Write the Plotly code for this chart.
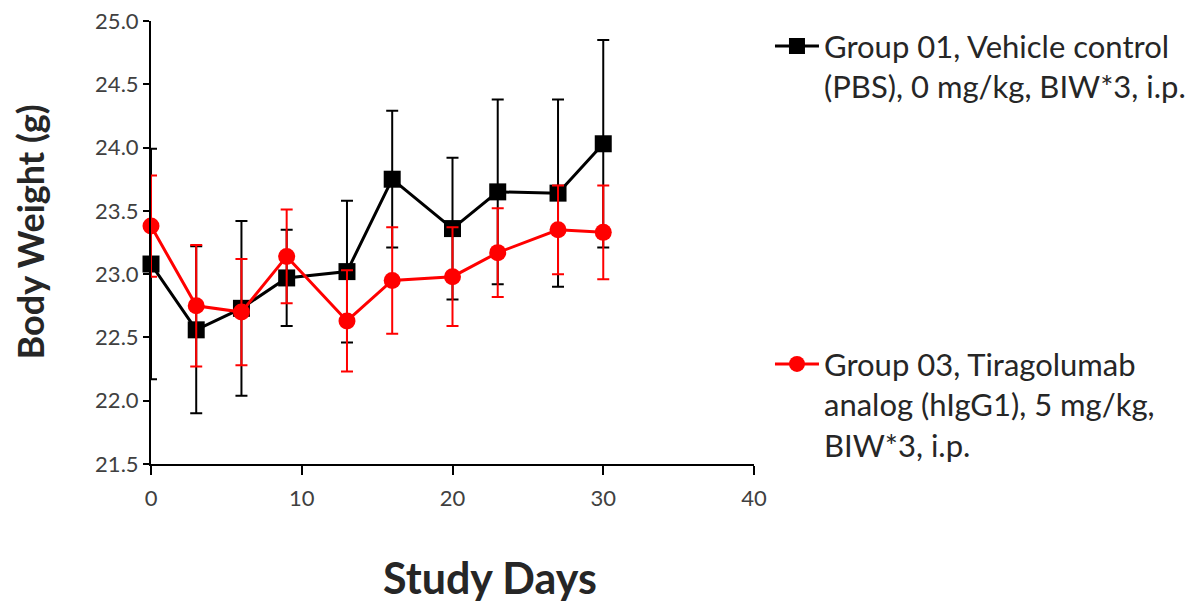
import plotly.graph_objects as go

days = [0, 3, 6, 9, 13, 16, 20, 23, 27, 30]
g01_mean = [23.08, 22.56, 22.73, 22.97, 23.02, 23.75, 23.36, 23.65, 23.64, 24.03]
g01_err = [0.91, 0.66, 0.69, 0.38, 0.56, 0.54, 0.56, 0.73, 0.74, 0.82]
g03_mean = [23.38, 22.75, 22.70, 23.14, 22.63, 22.95, 22.98, 23.17, 23.35, 23.33]
g03_err = [0.40, 0.48, 0.42, 0.37, 0.40, 0.42, 0.39, 0.35, 0.35, 0.37]

g01_name = "Group 01, Vehicle control<br>(PBS), 0 mg/kg, BIW*3, i.p."
g03_name = "Group 03, Tiragolumab<br>analog (hIgG1), 5 mg/kg,<br>BIW*3, i.p."

x_title = "Study Days"
y_title = "Body Weight (g)"

x_ticks = [0, 10, 20, 30, 40]
y_ticks = [21.5, 22.0, 22.5, 23.0, 23.5, 24.0, 24.5, 25.0]

FONT = "Lato"

fig = go.Figure()
fig.add_trace(go.Scatter(
    x=days, y=g01_mean, name=g01_name, mode="lines+markers",
    line=dict(color="black", width=3),
    marker=dict(symbol="square", size=17, color="black"),
    error_y=dict(type="data", array=g01_err, visible=True, color="black", thickness=2, width=6),
    cliponaxis=False, legend="legend",
))
fig.add_trace(go.Scatter(
    x=days, y=g03_mean, name=g03_name, mode="lines+markers",
    line=dict(color="#ff0000", width=3),
    marker=dict(symbol="circle", size=17, color="#ff0000"),
    error_y=dict(type="data", array=g03_err, visible=True, color="#ff0000", thickness=2, width=6),
    cliponaxis=False, legend="legend2",
))

fig.update_layout(
    width=1193, height=605,
    margin=dict(l=151, r=439, t=21, b=141.2, autoexpand=False),
    paper_bgcolor="white", plot_bgcolor="white",
    font=dict(family=FONT, color="#404040"),
    legend=dict(x=1.0265, y=1.004, xanchor="left", yanchor="top", valign="top",
                font=dict(family=FONT, size=31, color="#262626"),
                bgcolor="rgba(0,0,0,0)", itemwidth=44, tracegroupgap=0),
    legend2=dict(x=1.0265, y=0.286, xanchor="left", yanchor="top", valign="top",
                 font=dict(family=FONT, size=31, color="#262626"),
                 bgcolor="rgba(0,0,0,0)", itemwidth=44),
    showlegend=True,
    annotations=[
        dict(text=f"<b>{x_title}</b>", xref="paper", yref="paper", x=0.562, y=-0.3185,
             xanchor="center", yanchor="bottom", showarrow=False,
             font=dict(family=FONT, size=43, color="#262626")),
        dict(text=f"<b>{y_title}</b>", xref="paper", yref="paper", x=-0.2007, y=0.525,
             xanchor="center", yanchor="middle", showarrow=False, textangle=-90,
             font=dict(family=FONT, size=36, color="#262626")),
    ],
)
fig.update_xaxes(
    range=[0, 40], tickvals=x_ticks, ticktext=[str(v) for v in x_ticks],
    showgrid=False, zeroline=False, showline=True, linecolor="black", linewidth=2,
    ticks="outside", ticklen=9, tickwidth=2, tickcolor="black",
    tickfont=dict(family=FONT, size=22, color="#404040"), ticklabelstandoff=5,
    ticklabeloverflow="allow",
)
fig.update_yaxes(
    range=[21.5, 25.0], tickvals=y_ticks, ticktext=[f"{v:.1f}" for v in y_ticks],
    showgrid=False, zeroline=False, showline=True, linecolor="black", linewidth=2,
    ticks="outside", ticklen=6, tickwidth=2, tickcolor="black",
    tickfont=dict(family=FONT, size=22, color="#404040"),
    ticklabeloverflow="allow",
)

fig.write_html(
    "out.html",
    config={"displayModeBar": False},
    post_script="document.body.style.margin='0';document.body.style.overflow='hidden';",
)
